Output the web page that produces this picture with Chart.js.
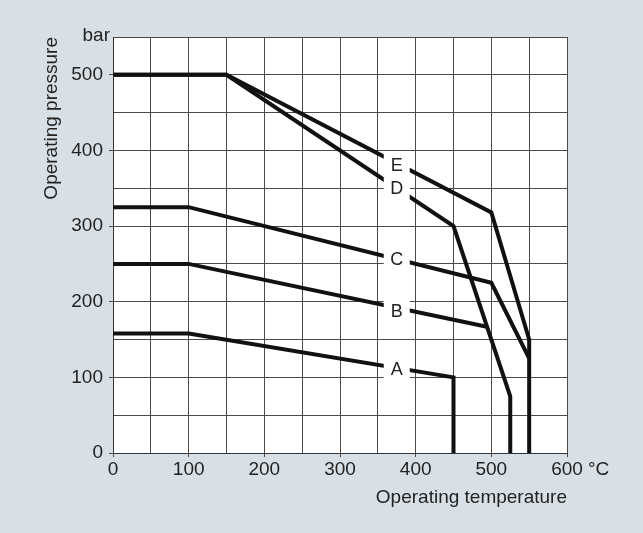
<!DOCTYPE html>
<html>
<head>
<meta charset="utf-8">
<script src="https://cdn.jsdelivr.net/npm/chart.js@4"></script>
<style>
  body { margin: 0; background: #d8e0e6; }
  canvas { display: block; }
</style>
</head>
<body>
<canvas id="pressureChart" width="643" height="533"></canvas>
<script>
// curve points: temperature (°C) / pressure (bar)
const tempA = [0, 100, 450, 450];
const presA = [158, 158, 100, 0];
const tempB = [0, 100, 494];
const presB = [250, 250, 167];
const tempC = [0, 100, 500, 550];
const presC = [325, 325, 225, 125];
const tempD = [0, 150, 450, 525, 525];
const presD = [500, 500, 300, 75, 0];
const tempE = [0, 150, 500, 550, 550];
const presE = [500, 500, 318, 150, 0];

// where the curve letters sit
const curveNames = ['A', 'B', 'C', 'D', 'E'];
const nameTemps = [375, 375, 375, 375, 375];
const namePressures = [111, 188, 257, 350, 381];

const FONT = '"Liberation Sans", Arial, sans-serif';
const TEXT = '#222';
const GRID = '#4a4a4a';

function toPoints(xs, ys) {
  return xs.map((x, i) => ({ x: x, y: ys[i] }));
}

function curve(xs, ys) {
  return {
    data: toPoints(xs, ys),
    showLine: true,
    borderColor: '#111',
    borderWidth: 4,
    borderJoinStyle: 'miter',
    pointRadius: 0,
    fill: false
  };
}

const chartBackground = {
  id: 'chartBackground',
  beforeDraw(chart) {
    const { ctx, chartArea } = chart;
    ctx.save();
    ctx.fillStyle = '#d8e0e6';
    ctx.fillRect(0, 0, chart.width, chart.height);
    ctx.fillStyle = '#fff';
    ctx.fillRect(chartArea.left, chartArea.top, chartArea.width, chartArea.height);
    ctx.restore();
  }
};

const curveLabels = {
  id: 'curveLabels',
  afterDatasetsDraw(chart) {
    const { ctx, scales: { x, y } } = chart;
    ctx.save();
    ctx.font = '18px ' + FONT;
    ctx.textAlign = 'center';
    ctx.textBaseline = 'middle';
    curveNames.forEach((name, i) => {
      const px = x.getPixelForValue(nameTemps[i]);
      const py = y.getPixelForValue(namePressures[i]);
      ctx.fillStyle = '#fff';
      ctx.fillRect(px - 13, py - 11, 26, 22);
      ctx.fillStyle = TEXT;
      ctx.fillText(name, px, py + 1);
    });
    // units next to the axes
    ctx.font = '19px ' + FONT;
    ctx.textAlign = 'left';
    ctx.fillText('°C', x.getPixelForValue(600) + 21, x.top + 17);
    ctx.textAlign = 'right';
    ctx.fillText('bar', y.right - 3, y.getPixelForValue(550) - 1);
    ctx.restore();
  }
};

const tickColor = (c) => (c.tick && c.tick.value % 100 === 0 ? GRID : 'rgba(0,0,0,0)');

new Chart(document.getElementById('pressureChart').getContext('2d'), {
  type: 'scatter',
  data: {
    datasets: [
      curve(tempA, presA),
      curve(tempB, presB),
      curve(tempC, presC),
      curve(tempD, presD),
      curve(tempE, presE)
    ]
  },
  options: {
    responsive: false,
    animation: false,
    events: [],
    layout: { padding: { top: 37, right: 76, left: 0, bottom: 0 } },
    plugins: {
      legend: { display: false },
      tooltip: { enabled: false }
    },
    scales: {
      x: {
        type: 'linear',
        min: 0,
        max: 600,
        afterFit: (scale) => { scale.height = 80; },
        grid: { color: GRID, tickLength: 4, tickColor: tickColor },
        border: { color: '#333' },
        ticks: {
          stepSize: 50,
          autoSkip: false,
          maxRotation: 0,
          padding: 1,
          color: TEXT,
          font: { family: FONT, size: 19 },
          callback: (v) => (v % 100 === 0 ? v : '')
        },
        title: {
          display: true,
          text: 'Operating temperature',
          align: 'end',
          color: TEXT,
          font: { family: FONT, size: 19 },
          padding: { top: 0, bottom: 24 }
        }
      },
      y: {
        type: 'linear',
        min: 0,
        max: 550,
        afterFit: (scale) => { scale.width = 113; },
        grid: { color: GRID, tickLength: 4, tickColor: tickColor },
        border: { color: '#333' },
        ticks: {
          stepSize: 50,
          autoSkip: false,
          padding: 6,
          color: TEXT,
          font: { family: FONT, size: 19 },
          callback: (v) => (v % 100 === 0 && v <= 500 ? v : '')
        },
        title: {
          display: true,
          text: 'Operating pressure',
          align: 'end',
          color: TEXT,
          font: { family: FONT, size: 19 },
          padding: { top: 40, bottom: 0 }
        }
      }
    }
  },
  plugins: [chartBackground, curveLabels]
});
</script>
</body>
</html>
